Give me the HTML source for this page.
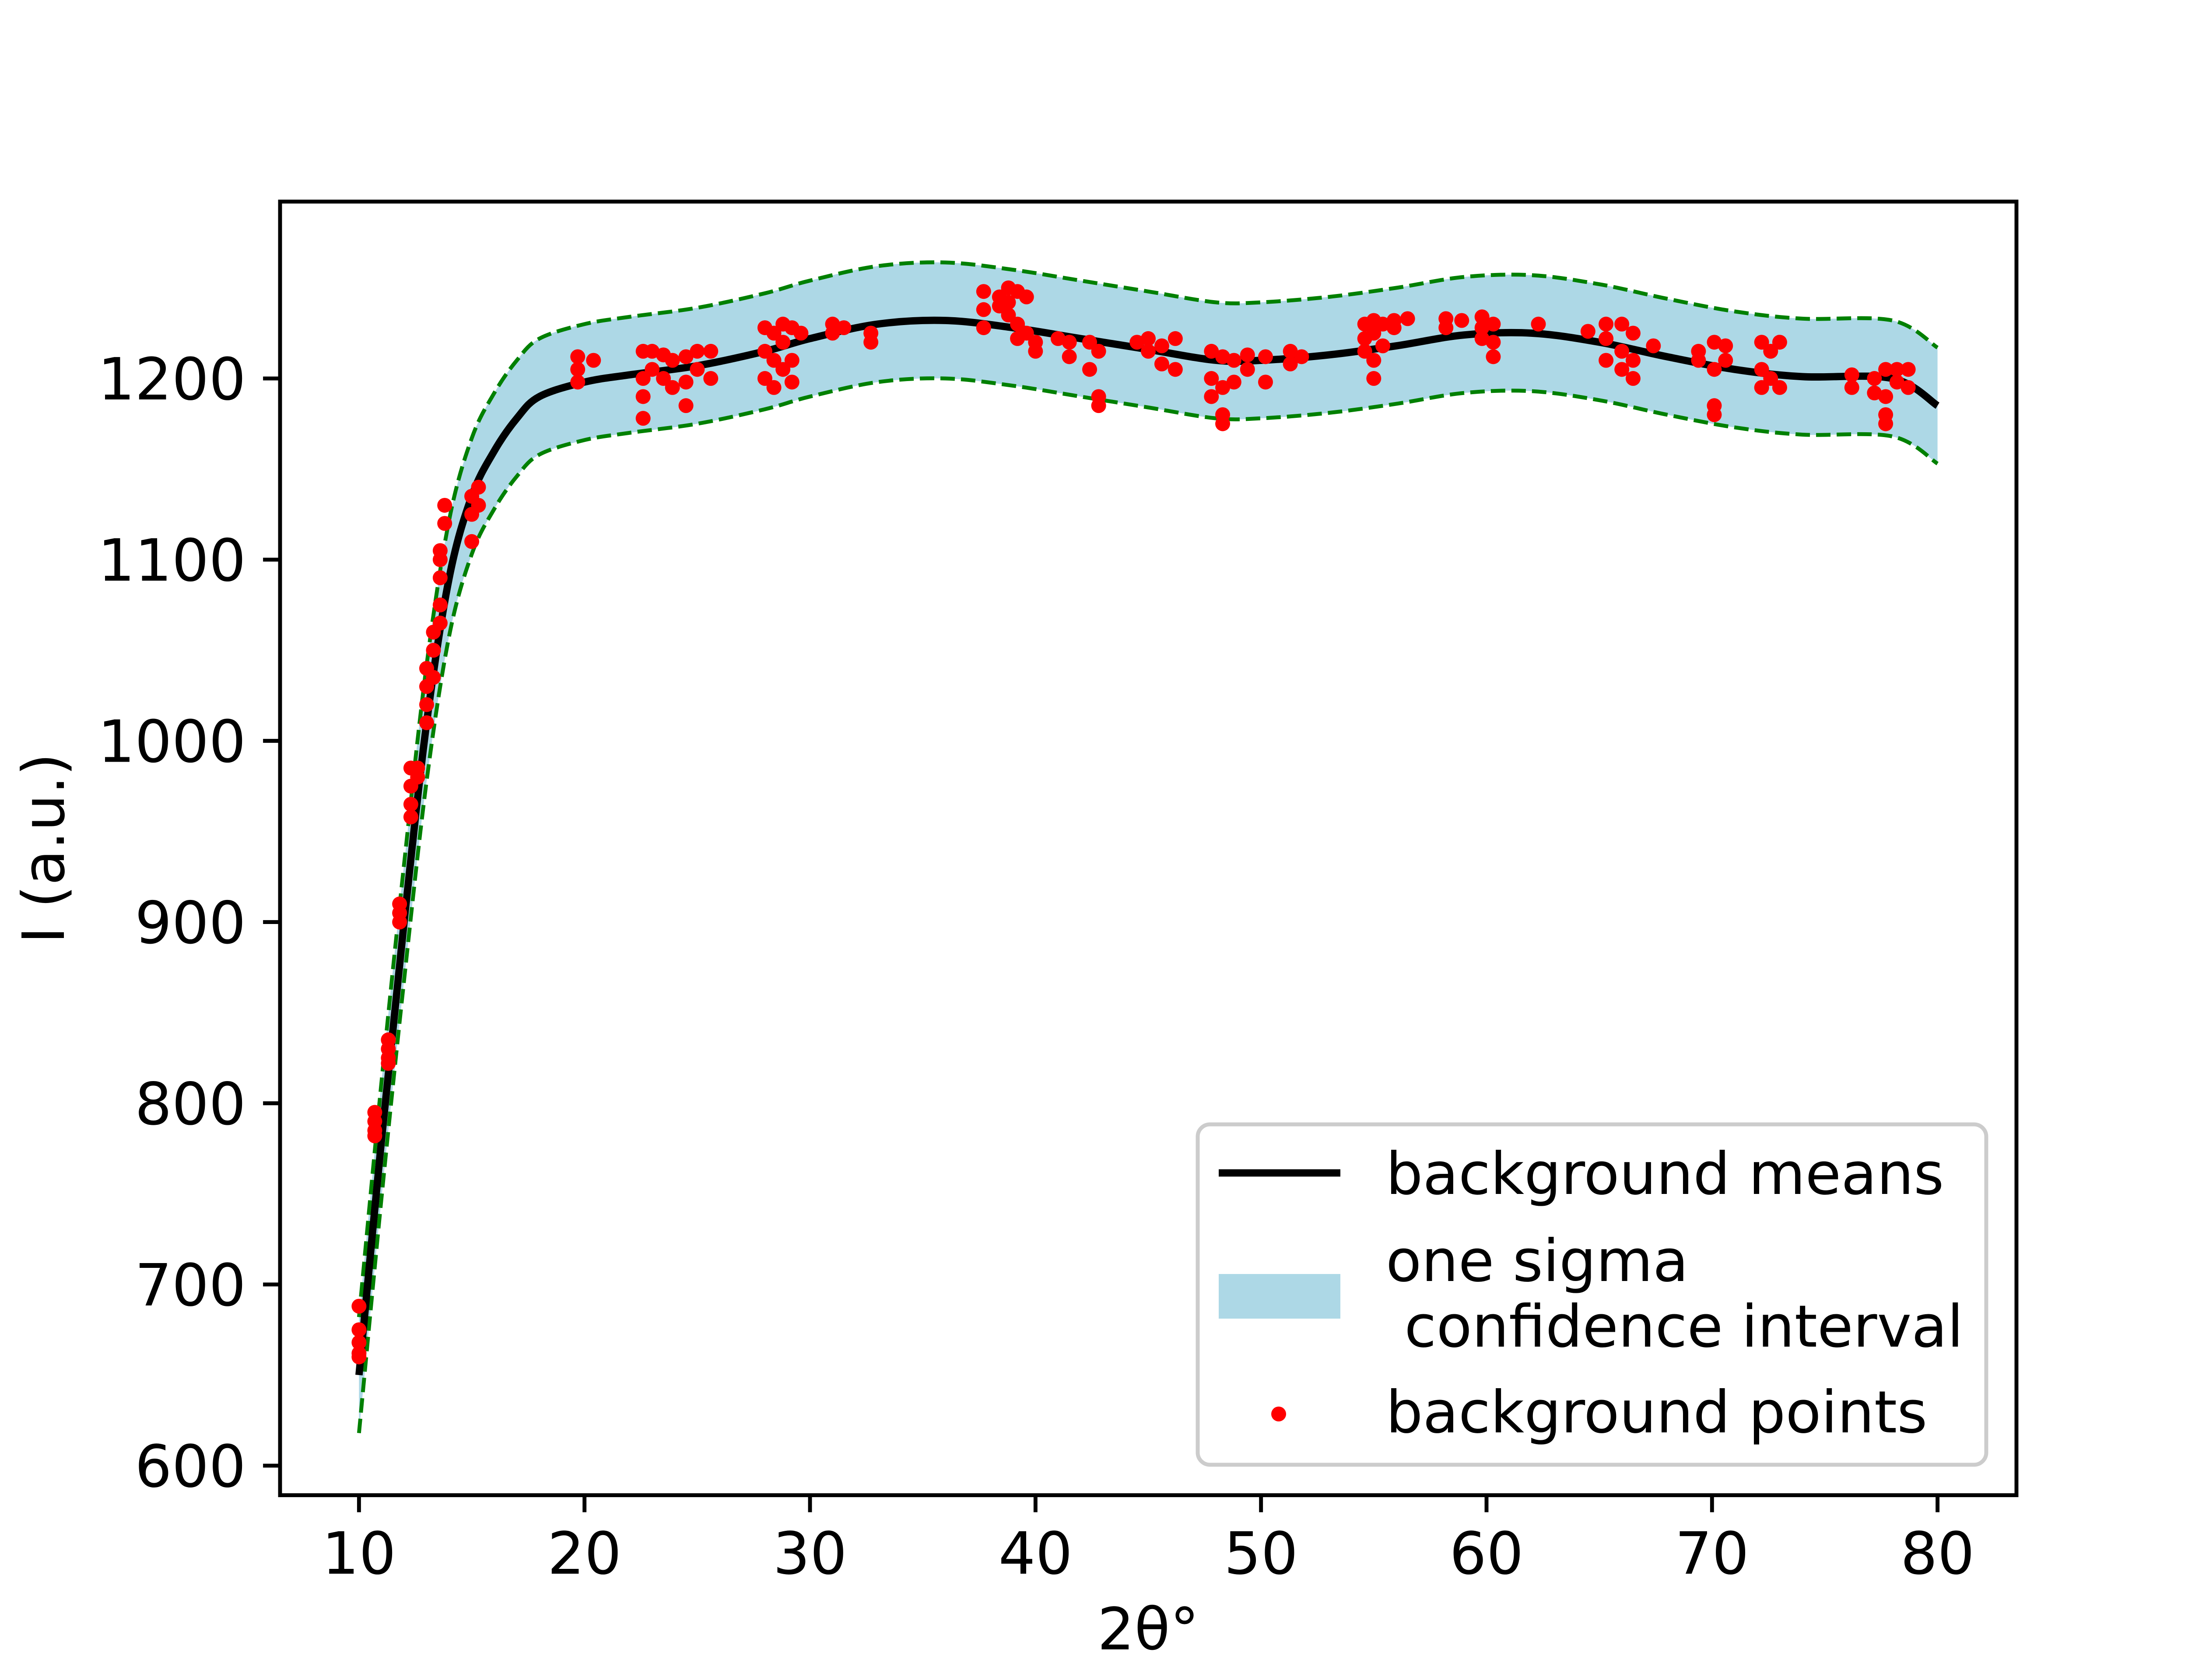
<!DOCTYPE html>
<html><head><meta charset="utf-8">
<style>
html,body{margin:0;padding:0;background:#fff;}
svg{display:block;font-family:"DejaVu Sans","Liberation Sans",sans-serif;}
</style></head>
<body>
<svg id="chart" width="5120" height="3840" viewBox="0 0 5120 3840" xmlns="http://www.w3.org/2000/svg">
<rect width="5120" height="3840" fill="#fff"/>
<g id="plot"></g>
<g id="axes"></g>
<g id="legend">
  <rect x="2737" y="2570" width="1802" height="778" rx="28" fill="#fff" fill-opacity="0.8" stroke="#cccccc" stroke-width="9"/>
  <line x1="2785" y1="2681" x2="3063" y2="2681" stroke="#000" stroke-width="16.7"/>
  <text x="3167" y="2729" font-size="133">background means</text>
  <rect x="2785" y="2912" width="278" height="102" fill="#add8e6"/>
  <text x="3167" y="2928" font-size="133">one sigma</text>
  <text x="3167" y="3078" font-size="133" xml:space="preserve"> confidence interval</text>
  <circle cx="2922" cy="3232" r="17" fill="#ff0000"/>
  <text x="3167" y="3274" font-size="133">background points</text>
</g>
</svg>
<script>
const curveX = [10,11,12,13,14,15,16,17,18,20,22,25,28,30,33,36,39,42,45,48,50,53,56,59,62,65,68,71,74,78,80];
const curveMean = [650,780,900,1010,1090,1135,1160,1178,1190,1198,1202,1207,1215,1222,1230,1232,1228,1222,1216,1210,1210,1213,1218,1224,1225,1220,1212,1205,1201,1200,1185];
const curveSigma = [32,32,32,32,32,32,32,32,32,32,32,32,32,32,32,32,32,32,32,32,32,32,32,32,32,32,32,32,32,32,32];
const xTicks = [10,20,30,40,50,60,70,80];
const yTicks = [600,700,800,900,1000,1100,1200];
const pointX = [10,10,10,10,10,10.7,10.7,10.7,10.7,11.3,11.3,11.3,11.3,11.8,11.8,11.8,12.3,12.3,12.3,12.3,12.6,12.6,13,13,13,13,13.3,13.3,13.3,13.6,13.6,13.6,13.6,13.6,13.8,13.8,15,15,15,15.3,15.3,19.7,19.7,19.7,20.4,22.6,22.6,22.6,22.6,23,23,23.5,23.5,23.9,23.9,24.5,24.5,24.5,25,25,25.6,25.6,28,28,28,28.4,28.4,28.4,28.8,28.8,28.8,29.2,29.2,29.2,29.6,31,31,31.5,32.7,32.7,37.7,37.7,37.7,38.4,38.4,38.8,38.8,38.8,39.2,39.2,39.2,39.6,39.6,40,40,41,41.5,41.5,42.4,42.4,42.8,42.8,42.8,44.5,45,45,45.6,45.6,46.2,46.2,47.8,47.8,47.8,48.3,48.3,48.3,48.3,48.8,48.8,49.4,49.4,50.2,50.2,51.3,51.3,51.8,54.6,54.6,54.6,55,55,55,55,55.4,55.4,55.9,55.9,56.5,58.2,58.2,58.9,59.8,59.8,59.8,60.3,60.3,60.3,62.3,64.5,65.3,65.3,65.3,66,66,66,66.5,66.5,66.5,67.4,69.4,69.4,70.1,70.1,70.1,70.1,70.6,70.6,72.2,72.2,72.2,72.6,72.6,73,73,76.2,76.2,77.2,77.2,77.7,77.7,77.7,77.7,78.2,78.2,78.7,78.7];
const pointY = [688,675,668,662,660,795,790,785,782,835,830,825,822,910,905,900,985,975,965,958,985,980,1010,1020,1030,1040,1050,1060,1035,1075,1090,1100,1105,1065,1130,1120,1110,1125,1135,1140,1130,1212,1205,1198,1210,1215,1200,1190,1178,1215,1205,1213,1200,1210,1195,1212,1198,1185,1215,1205,1215,1200,1228,1215,1200,1225,1210,1195,1230,1220,1205,1228,1210,1198,1225,1230,1225,1228,1225,1220,1248,1238,1228,1245,1240,1250,1242,1235,1248,1230,1222,1245,1225,1215,1220,1222,1220,1212,1220,1205,1215,1190,1185,1220,1222,1215,1218,1208,1222,1205,1215,1200,1190,1212,1195,1180,1175,1210,1198,1213,1205,1212,1198,1215,1208,1212,1230,1222,1215,1232,1225,1210,1200,1230,1218,1232,1228,1233,1233,1228,1232,1234,1228,1222,1230,1220,1212,1230,1226,1230,1222,1210,1230,1215,1205,1225,1210,1200,1218,1215,1210,1220,1205,1185,1180,1218,1210,1220,1205,1195,1215,1200,1220,1195,1202,1195,1200,1192,1205,1190,1180,1175,1205,1198,1205,1195];

const L=640,R=4608,T=460.8,B=3417.6;
const XMIN=6.5,XMAX=83.5,YMIN=583.7,YMAX=1297.6;
const sx=v=>L+(v-XMIN)/(XMAX-XMIN)*(R-L);
const sy=v=>B-(v-YMIN)/(YMAX-YMIN)*(B-T);
const NS='http://www.w3.org/2000/svg';
function mk(tag,attrs,parent){const e=document.createElementNS(NS,tag);for(const k in attrs)e.setAttribute(k,attrs[k]);parent.appendChild(e);return e;}
function segs(pts){let d='';
 for(let i=0;i<pts.length-1;i++){const p0=pts[Math.max(0,i-1)],p1=pts[i],p2=pts[i+1],p3=pts[Math.min(pts.length-1,i+2)];
  const c1=[p1[0]+(p2[0]-p0[0])/6,p1[1]+(p2[1]-p0[1])/6],c2=[p2[0]-(p3[0]-p1[0])/6,p2[1]-(p3[1]-p1[1])/6];
  d+=' C'+c1[0]+','+c1[1]+' '+c2[0]+','+c2[1]+' '+p2[0]+','+p2[1];}
 return d;}
function spline(pts){return 'M'+pts[0][0]+','+pts[0][1]+segs(pts);}
const plot=document.getElementById('plot');
const up=curveX.map((x,i)=>[sx(x),sy(curveMean[i]+curveSigma[i])]);
const lo=curveX.map((x,i)=>[sx(x),sy(curveMean[i]-curveSigma[i])]);
const mid=curveX.map((x,i)=>[sx(x),sy(curveMean[i])]);
const loRev=lo.slice().reverse();
let band=mk('path',{d:spline(up)+' L'+loRev[0][0]+','+loRev[0][1]+segs(loRev)+' Z',fill:'#add8e6',stroke:'none'},plot);


let u=mk('path',{d:spline(up),fill:'none',stroke:'#008000',"stroke-width":8.9,"stroke-dasharray":'33,14'},plot);


let lw=mk('path',{d:spline(lo),fill:'none',stroke:'#008000',"stroke-width":8.9,"stroke-dasharray":'33,14'},plot);


let m=mk('path',{d:spline(mid),fill:'none',stroke:'#000',"stroke-width":16.7},plot);


pointX.forEach((x,i)=>{const c=mk('circle',{cx:sx(x),cy:sy(pointY[i]),r:17,fill:'#ff0000'},plot);
 
 });
const ax=document.getElementById('axes');
let fr=mk('rect',{x:L,y:T,width:R-L,height:B-T,fill:'none',stroke:'#000',"stroke-width":8.9},ax);


xTicks.forEach(v=>{const x=sx(v);
 const t=mk('line',{x1:x,y1:B,x2:x,y2:B+38.9,stroke:'#000',"stroke-width":8.9},ax);
 
 
 const l=mk('text',{x:x,y:3597,"font-size":133,"text-anchor":'middle'},ax);l.textContent=v;
 
 });
yTicks.forEach(v=>{const y=sy(v);
 const t=mk('line',{x1:L-38.9,y1:y,x2:L,y2:y,stroke:'#000',"stroke-width":8.9},ax);
 
 
 const l=mk('text',{x:562,y:y+48,"font-size":133,"text-anchor":'end'},ax);l.textContent=v;
 
 });
const xt=mk('text',{x:(L+R)/2,y:3770,"font-size":133,"text-anchor":'middle'},ax);xt.textContent='2θ°';


const yt=mk('text',{x:0,y:0,"font-size":133,"text-anchor":'middle',transform:'translate(146,'+((T+B)/2)+') rotate(-90)'},ax);yt.textContent='I (a.u.)';


</script>
</body></html>
